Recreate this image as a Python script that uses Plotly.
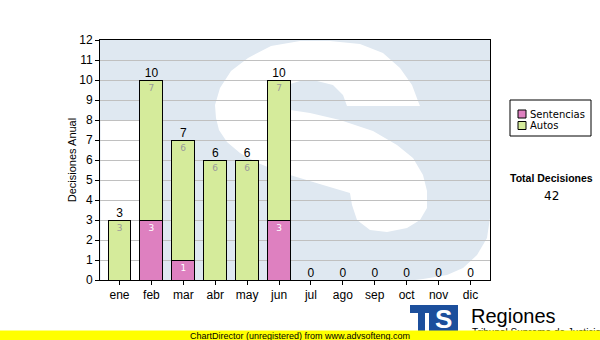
import plotly.graph_objects as go

months = ["ene", "feb", "mar", "abr", "may", "jun", "jul", "ago", "sep", "oct", "nov", "dic"]
sentencias = [0, 3, 1, 0, 0, 3, 0, 0, 0, 0, 0, 0]
autos = [3, 7, 6, 6, 6, 7, 0, 0, 0, 0, 0, 0]
series_names = ["Sentencias", "Autos"]
y_title = "Decisiones Anual"
total_title = "Total Decisiones"

totals = [a + b for a, b in zip(sentencias, autos)]
grand_total = sum(totals)

PINK = "#de80c0"
GREEN = "#d5eb9b"
WM_BLUE = "#dfe8f1"

# plot area in pixels: x 100..490, y 40..280
L, R, T, B = 100, 490, 40, 280


def pp(x, y):
    return (x - L) / (R - L), (B - y) / (B - T)


def path(points):
    s = ""
    for i, (x, y) in enumerate(points):
        fx, fy = pp(x, y)
        s += ("M" if i == 0 else "L") + f"{fx:.4f},{fy:.4f} "
    return s + "Z"


s_pts = [(420, 106), (418, 101), (412, 85), (400, 68), (383, 53), (360, 44), (330, 41), (300, 41),
         (271, 46), (248, 58), (231, 71), (220, 88), (215, 105), (216, 118), (219, 130), (227, 142),
         (240, 153), (258, 163), (275, 170), (290, 175), (323, 185), (350, 193), (352, 205),
         (357, 220), (370, 230), (387, 232), (407, 228), (420, 220), (427, 208), (427, 191),
         (423, 175), (413, 158), (397, 145), (373, 131), (340, 120), (310, 113), (290, 110),
         (285, 104), (284, 95), (290, 84), (300, 81), (317, 81), (333, 85), (343, 95), (347, 106)]
corner_pts = [(490, 218), (487, 238), (477, 255), (463, 268), (447, 275), (423, 279), (415, 280), (490, 280)]
left_pts = [(100.5, 120), (153, 120), (153, 280), (100.5, 280)]

shapes = [
    dict(type="rect", xref="paper", yref="paper", x0=0, x1=1, y0=0, y1=1,
         fillcolor=WM_BLUE, line_width=0, layer="below"),
    dict(type="path", xref="paper", yref="paper", path=path(s_pts),
         fillcolor="white", line_width=0, layer="below"),
    dict(type="path", xref="paper", yref="paper", path=path(corner_pts),
         fillcolor="white", line_width=0, layer="below"),
    dict(type="path", xref="paper", yref="paper", path=path(left_pts),
         fillcolor="white", line_width=0, layer="below"),
]

# legend box (manual)
bx0, by0 = pp(510, 100)
bx1, by1 = pp(591, 136)
shapes.append(dict(type="rect", xref="paper", yref="paper", x0=bx0, x1=bx1, y0=by1, y1=by0,
                   line=dict(color="black", width=1), fillcolor="white"))
annotations = []
for i, (name, col) in enumerate(zip(series_names, [PINK, GREEN])):
    yc = 114 + i * 11.5
    sx0, sy0 = pp(518, yc - 4)
    sx1, sy1 = pp(526, yc + 4)
    shapes.append(dict(type="rect", xref="paper", yref="paper", x0=sx0, x1=sx1, y0=sy1, y1=sy0,
                       line=dict(color="black", width=1), fillcolor=col))
    tx, ty = pp(528, yc)
    annotations.append(dict(xref="paper", yref="paper", x=tx, y=ty, text=name, showarrow=False,
                            xanchor="left", yanchor="middle",
                            font=dict(family="DejaVu Sans", size=10, color="black")))

tx, ty = pp(551, 177.5)
annotations.append(dict(xref="paper", yref="paper", x=tx, y=ty, text=f"<b>{total_title}</b>",
                        showarrow=False, xanchor="center", yanchor="middle",
                        font=dict(family="Liberation Sans", size=10.5, color="black")))
tx, ty = pp(551, 196)
annotations.append(dict(xref="paper", yref="paper", x=tx, y=ty, text=str(grand_total),
                        showarrow=False, xanchor="center", yanchor="middle",
                        font=dict(family="DejaVu Sans", size=12, color="black")))

# logo
lx0, ly0 = pp(410, 305)
lx1, ly1 = pp(458, 331)
shapes.append(dict(type="rect", xref="paper", yref="paper", x0=lx0, x1=lx1, y0=ly1, y1=ly0,
                   line_width=0, fillcolor="#1c4f9c"))
for (ax0, ay0, ax1, ay1) in [(410, 313, 418, 331), (425, 313, 429, 331)]:
    qx0, qy0 = pp(ax0, ay0)
    qx1, qy1 = pp(ax1, ay1)
    shapes.append(dict(type="rect", xref="paper", yref="paper", x0=qx0, x1=qx1, y0=qy1, y1=qy0,
                       line_width=0, fillcolor="white"))
tx, ty = pp(443, 319)
annotations.append(dict(xref="paper", yref="paper", x=tx, y=ty, text="<b>S</b>", showarrow=False,
                        xanchor="center", yanchor="middle",
                        font=dict(family="Liberation Sans", size=26, color="white")))
tx, ty = pp(469, 316)
annotations.append(dict(xref="paper", yref="paper", x=tx, y=ty, text="Regiones", showarrow=False,
                        xanchor="left", yanchor="middle",
                        font=dict(family="Liberation Sans", size=20, color="black")))
tx, ty = pp(470, 332.5)
annotations.append(dict(xref="paper", yref="paper", x=tx, y=ty, text="Tribunal Supremo de Justicia",
                        showarrow=False, xanchor="left", yanchor="middle",
                        font=dict(family="Liberation Sans", size=10, color="black")))
tx, ty = pp(300, 335.5)
annotations.append(dict(xref="paper", yref="paper", x=tx, y=ty,
                        text="ChartDirector (unregistered) from www.advsofteng.com",
                        showarrow=False, xanchor="center", yanchor="middle",
                        width=600, height=9, bgcolor="#ffff00", borderpad=0,
                        font=dict(family="Liberation Sans", size=9, color="black")))

fig = go.Figure()
fig.add_trace(go.Bar(
    x=months, y=sentencias, name=series_names[0],
    marker=dict(color=PINK, line=dict(color="black", width=1)),
    text=[str(v) if v else "" for v in sentencias], textposition="inside",
    insidetextanchor="end", textangle=0, constraintext="none",
    textfont=dict(family="DejaVu Sans", size=9, color="white"),
    width=0.72, showlegend=False, hoverinfo="skip"))
fig.add_trace(go.Bar(
    x=months, y=autos, name=series_names[1],
    marker=dict(color=GREEN, line=dict(color="black", width=1)),
    text=[str(v) if v else "" for v in autos], textposition="inside",
    insidetextanchor="end", textangle=0, constraintext="none",
    textfont=dict(family="DejaVu Sans", size=9, color="#9a9a9a"),
    width=0.72, showlegend=False, hoverinfo="skip"))
fig.add_trace(go.Scatter(
    x=months, y=totals, mode="text", text=[str(t) for t in totals],
    textposition="top center", textfont=dict(family="Liberation Sans", size=12, color="black"),
    showlegend=False, hoverinfo="skip", cliponaxis=False))

fig.update_layout(
    width=600, height=340,
    margin=dict(l=L, r=600 - R, t=T, b=340 - B),
    paper_bgcolor="white", plot_bgcolor="white",
    barmode="stack", bargap=0.28, hovermode=False,
    shapes=shapes, annotations=annotations,
    font=dict(family="Liberation Sans", size=12, color="black"),
)
fig.update_xaxes(
    type="category", showline=True, mirror=True, linecolor="black", linewidth=1,
    ticks="outside", ticklen=4, tickcolor="black", showgrid=False,
    tickfont=dict(family="Liberation Sans", size=12, color="black"),
)
fig.update_yaxes(
    range=[0, 12], dtick=1, showline=True, mirror=True, linecolor="black", linewidth=1,
    ticks="outside", ticklen=4, tickcolor="black",
    showgrid=True, gridcolor="#c0c0c0", gridwidth=1, zeroline=False,
    tickfont=dict(family="Liberation Sans", size=12, color="black"),
    title=dict(text=y_title, font=dict(family="Liberation Sans", size=11, color="black"), standoff=0),
)

fig.write_html("out.html")
